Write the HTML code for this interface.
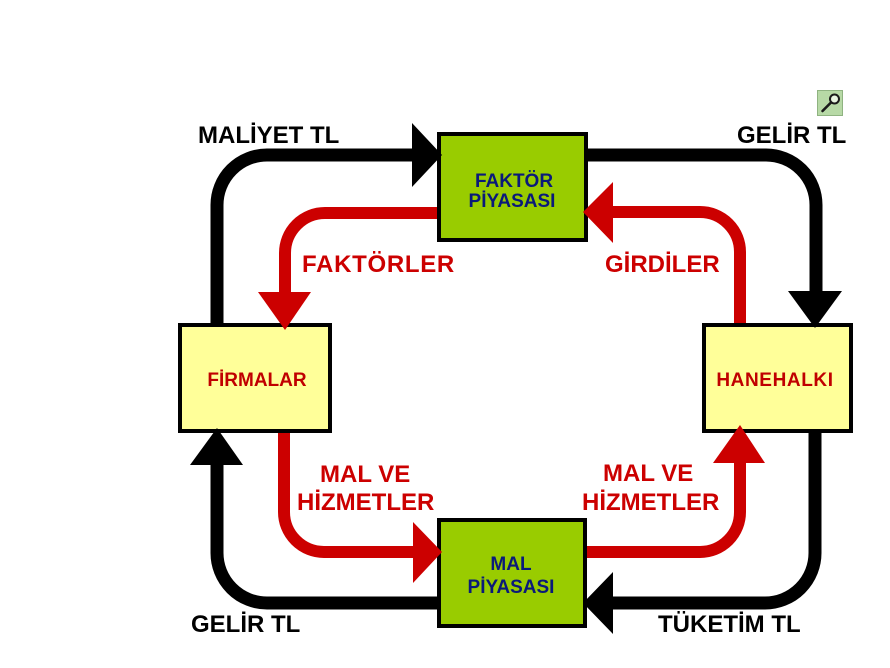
<!DOCTYPE html>
<html>
<head>
<meta charset="utf-8">
<style>
  html, body { margin:0; padding:0; background:#ffffff; }
  svg { display:block; }
  text { font-family: "Liberation Sans", Arial, sans-serif; font-weight: bold; }
</style>
</head>
<body>
<svg width="890" height="668" viewBox="0 0 890 668" xmlns="http://www.w3.org/2000/svg">
  <rect x="0" y="0" width="890" height="668" fill="#ffffff"/>

  <!-- Boxes -->
  <rect x="439" y="134" width="147" height="106" fill="#99cc00" stroke="#000" stroke-width="4"/>
  <rect x="439" y="520" width="146" height="106" fill="#99cc00" stroke="#000" stroke-width="4"/>
  <rect x="180" y="325" width="150" height="106" fill="#ffff99" stroke="#000" stroke-width="4"/>
  <rect x="704" y="325" width="147" height="106" fill="#ffff99" stroke="#000" stroke-width="4"/>

  <!-- Black loop -->
  <g fill="none" stroke="#000" stroke-width="13">
    <path d="M217 325 L217 205 A50 50 0 0 1 267 155 L414 155"/>
    <path d="M588 155 L766 155 A50 50 0 0 1 816 205 L816 293"/>
    <path d="M815 433 L815 553 A50 50 0 0 1 765 603 L611 603"/>
    <path d="M437 603 L267 603 A50 50 0 0 1 217 553 L217 463"/>
  </g>
  <g fill="#000">
    <polygon points="412,123 442,155 412,187"/>
    <polygon points="788,291 842,291 815,328"/>
    <polygon points="613,572 583,603 613,634"/>
    <polygon points="190,465 243,465 217,428"/>
  </g>

  <!-- Red loop -->
  <g fill="none" stroke="#cc0000" stroke-width="12">
    <path d="M437 213 L325 213 A40 40 0 0 0 285 253 L285 294"/>
    <path d="M740 323 L740 252 A40 40 0 0 0 700 212 L611 212"/>
    <path d="M284 433 L284 512 A40 40 0 0 0 324 552 L415 552"/>
    <path d="M587 552 L700 552 A40 40 0 0 0 740 512 L740 461"/>
  </g>
  <g fill="#cc0000">
    <polygon points="258,292 311,292 285,330"/>
    <polygon points="613,182 583,212 613,243"/>
    <polygon points="413,522 442,552 413,583"/>
    <polygon points="713,463 765,463 740,425"/>
  </g>

  <!-- Box labels -->
  <g fill="#0a1a7a" font-size="19" text-anchor="middle">
    <text x="514" y="187">FAKTÖR</text>
    <text x="512" y="207">PİYASASI</text>
    <text x="511" y="570">MAL</text>
    <text x="511" y="593">PİYASASI</text>
  </g>
  <g fill="#c00000" font-size="19" text-anchor="middle">
    <text x="257" y="386">FİRMALAR</text>
    <text x="775" y="386" letter-spacing="0.6">HANEHALKI</text>
  </g>

  <!-- Black labels -->
  <g fill="#000" font-size="24">
    <text x="198" y="143">MALİYET TL</text>
    <text x="737" y="143">GELİR TL</text>
    <text x="191" y="632">GELİR TL</text>
    <text x="658" y="632">TÜKETİM TL</text>
  </g>

  <!-- Red labels -->
  <g fill="#cc0000" font-size="24">
    <text x="302" y="272" letter-spacing="0.7">FAKTÖRLER</text>
    <text x="605" y="272">GİRDİLER</text>
    <text x="320" y="482">MAL VE</text>
    <text x="297" y="510">HİZMETLER</text>
    <text x="603" y="481">MAL VE</text>
    <text x="582" y="510">HİZMETLER</text>
  </g>

  <!-- Magnifier icon -->
  <rect x="817.5" y="90.5" width="25" height="25" fill="#b7d9a6" stroke="#8fb381" stroke-width="1"/>
  <circle cx="834.5" cy="99" r="4.5" fill="#e8f4e0" stroke="#1a1a1a" stroke-width="2"/>
  <line x1="831" y1="102.5" x2="822.5" y2="111" stroke="#1a1a1a" stroke-width="2.6" stroke-linecap="round"/>
</svg>
</body>
</html>
